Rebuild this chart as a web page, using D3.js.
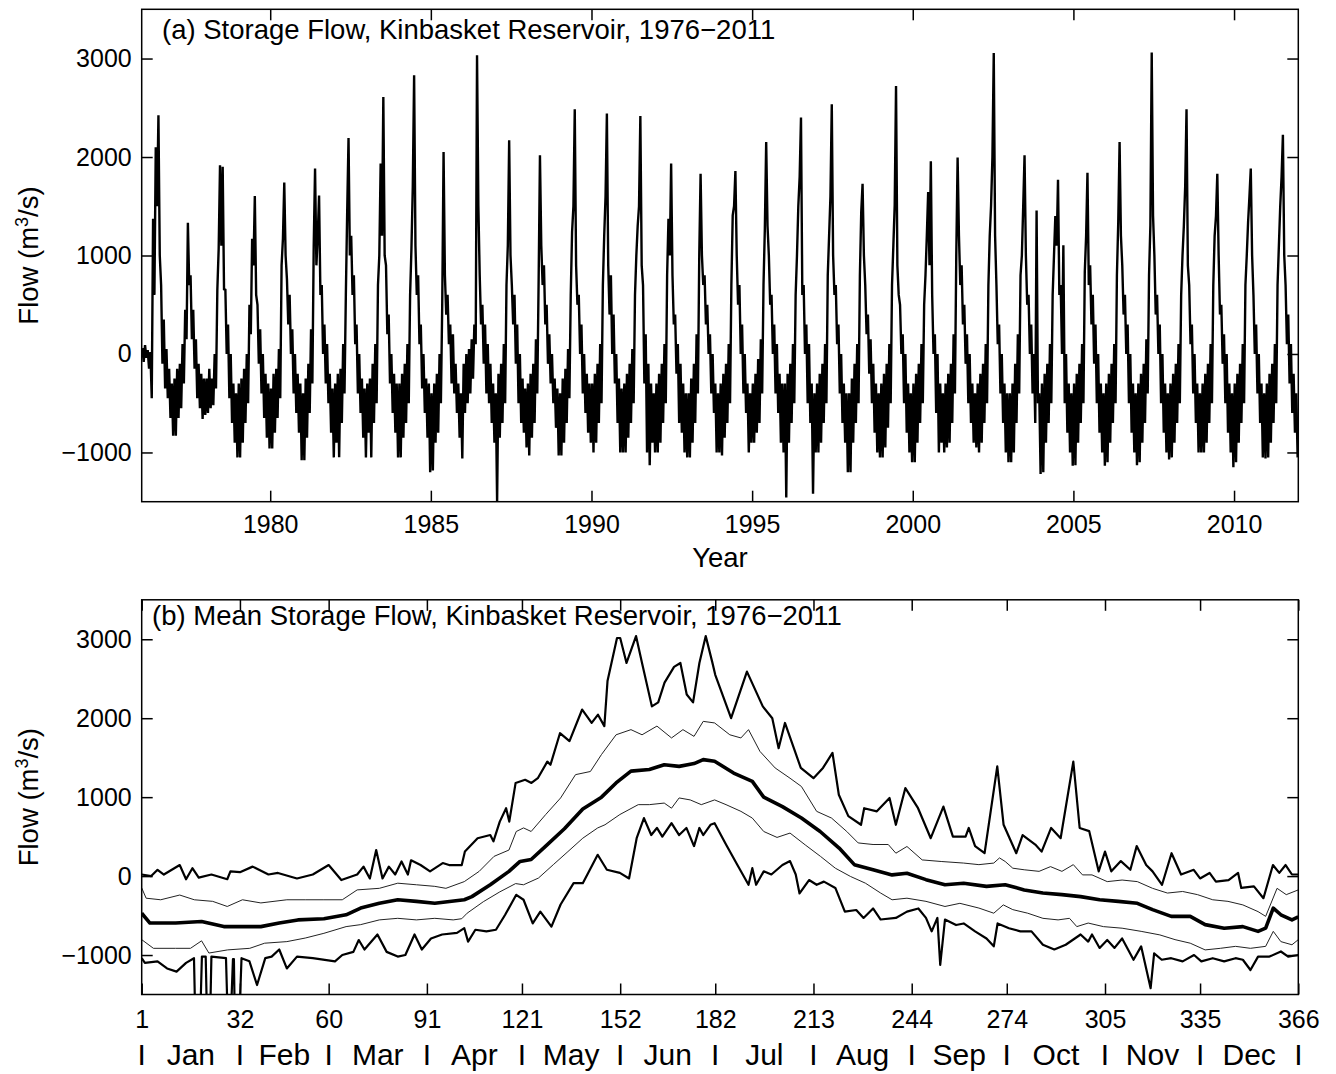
<!DOCTYPE html>
<html><head><meta charset="utf-8">
<script src="https://cdn.jsdelivr.net/npm/d3@7"></script>
<style>
body{margin:0;background:#fff}
text{font-family:"Liberation Sans",Arial,Helvetica,sans-serif;fill:#000}
</style>
</head><body>
<svg id="chart" width="1336" height="1074"></svg>
<script>
// ---------- tick labels / categories ----------
const yearTicks = [1980,1985,1990,1995,2000,2005,2010];
const flowTicks = [-1000,0,1000,2000,3000];
const dayTicks = [1,32,60,91,121,152,182,213,244,274,305,335,366];
const monthNames = ["Jan","Feb","Mar","Apr","May","Jun","Jul","Aug","Sep","Oct","Nov","Dec"];
const titleA = "(a) Storage Flow, Kinbasket Reservoir, 1976\u22122011";
const titleB = "(b) Mean Storage Flow, Kinbasket Reservoir, 1976\u22122011";

// ---------- panel (a): storage flow, 24 half-month readings per year (m3/s) ----------
const years = d3.range(1976, 2012);
const f1976=[60,-80,90,-40,40,-150,20,-450,1374,600,2100,1500,2424,1000,700,-100,350,-350,50,-450,-150,-650,-300,-830];
const f1977=[-250,-830,-150,-650,-100,-550,100,-300,450,150,1333,700,800,150,450,-150,150,-450,-100,-550,-200,-660,-250,-620];
const f1978=[-250,-600,-150,-550,-250,-520,0,-350,650,1069,1916,1100,1900,650,660,0,300,-450,0,-700,-300,-900,-400,-1050];
const f1979=[-300,-1050,-250,-900,-150,-700,0,-500,500,200,1170,900,1604,600,500,-100,250,-400,0,-650,-200,-850,-300,-960];
const f1980=[-350,-960,-200,-800,-150,-650,50,-450,900,1170,1740,1000,760,300,600,0,250,-400,0,-600,-200,-800,-300,-1080];
const f1981=[-400,-1080,-250,-850,-100,-600,250,-300,1100,1882,900,1200,1610,600,700,0,300,-300,100,-500,-200,-800,-350,-1050];
const f1982=[-300,-900,-200,-1049,-150,-700,100,-400,600,1442,2194,1000,1200,600,800,100,300,-400,0,-600,-250,-850,-350,-1050];
const f1983=[-300,-800,-250,-1050,-100,-700,100,-500,700,1000,1933,1200,2610,1000,900,200,400,-300,0,-600,-200,-800,-300,-1050];
const f1984=[-300,-1050,-200,-850,-100,-700,100,-500,600,1069,1700,2831,1100,600,800,100,300,-350,0,-600,-250,-850,-300,-1200];
const f1985=[-400,-1184,-300,-900,-200,-800,0,-500,500,2051,800,400,600,100,300,-300,200,-400,-100,-600,-300,-850,-400,-1060];
const f1986=[-100,-600,0,-500,50,-400,150,-250,300,100,3034,1500,800,300,500,-100,300,-400,100,-500,-100,-700,-300,-900];
const f1987=[-400,-1506,-200,-850,-100,-700,100,-500,700,1103,2170,1000,700,300,600,-100,300,-500,0,-700,-250,-800,-350,-950];
const f1988=[-300,-1030,-200,-850,-100,-700,150,-400,730,2017,1100,700,900,300,500,-100,200,-300,0,-500,-250,-750,-350,-1030];
const f1989=[-400,-1030,-250,-900,-150,-700,50,-450,600,1238,1500,2485,900,500,600,0,300,-400,0,-600,-200,-800,-300,-900];
const f1990=[-300,-1000,-200,-900,-100,-700,100,-500,700,1200,1600,2441,900,400,800,0,400,-300,0,-700,-250,-1000,-350,-1000];
const f1991=[-300,-1000,-200,-850,-100,-700,50,-500,600,1000,1300,1500,2417,900,700,-300,200,-1000,-100,-1130,-300,-900,-400,-1000];
const f1992=[-300,-1000,-200,-900,-100,-700,100,-500,800,1374,1000,1933,800,300,400,-200,100,-700,-100,-800,-300,-1000,-400,-1050];
const f1993=[-400,-1050,-250,-900,-100,-700,200,-400,1000,1831,1000,700,800,300,500,0,200,-400,0,-600,-300,-1000,-400,-1000];
const f1994=[-300,-1030,-200,-850,-100,-700,100,-500,700,1407,1500,1858,1000,500,700,0,300,-400,0,-600,-300,-1000,-400,-900];
const f1995=[-300,-900,-200,-800,-50,-700,150,-400,700,1272,2153,1300,1000,500,600,0,300,-400,100,-600,-200,-900,-300,-1000];
const f1996=[-300,-1458,-200,-900,-100,-700,100,-500,600,1000,1500,1800,2400,600,700,0,300,-500,100,-700,-300,-1420,-400,-1000];
const f1997=[-300,-1000,-200,-900,-100,-700,100,-500,800,1200,1600,2536,1000,600,700,100,300,-400,0,-700,-300,-900,-400,-1200];
const f1998=[-400,-1200,-250,-900,-100,-700,100,-500,800,1442,1729,1000,700,200,400,-200,150,-500,-100,-800,-300,-1000,-400,-1050];
const f1999=[-300,-1050,-200,-950,-100,-750,100,-500,700,1100,1509,2722,900,600,500,0,200,-500,0,-800,-300,-1000,-400,-1100];
const f2000=[-300,-1100,-200,-900,-100,-700,100,-500,500,800,1200,1645,900,1956,600,0,200,-600,0,-1000,-300,-900,-400,-1000];
const f2001=[-300,-950,-200,-900,-100,-700,200,-400,1000,1994,1200,700,900,300,500,-100,200,-500,0,-700,-300,-900,-400,-950];
const f2002=[-300,-1000,-200,-900,-100,-700,100,-500,700,1200,1509,2000,3057,1200,700,100,300,-400,0,-700,-300,-1000,-400,-1100];
const f2003=[-400,-1100,-300,-1000,-100,-700,200,-400,800,1000,1500,2017,1000,500,600,0,300,-400,0,-700,1458,-500,-400,-1218];
const f2004=[-300,-1200,-200,-900,-100,-700,100,-500,600,1000,1400,1100,1770,600,700,0,1103,-500,0,-800,-300,-1000,-400,-1134];
const f2005=[-300,-1130,-200,-900,-100,-700,100,-500,832,1200,1841,700,900,300,600,-100,300,-500,0,-800,-300,-1000,-400,-1134];
const f2006=[-300,-1100,-200,-900,-100,-700,100,-500,800,1340,2153,1200,900,400,600,0,300,-500,0,-800,-300,-1000,-400,-1130];
const f2007=[-300,-1100,-200,-900,-100,-700,150,-400,800,1306,3061,1400,1000,400,600,0,300,-500,0,-800,-300,-1000,-400,-1070];
const f2008=[-300,-1050,-200,-900,-100,-700,100,-500,600,1000,1300,1700,2485,900,700,100,300,-400,0,-700,-300,-1000,-400,-1000];
const f2009=[-300,-1000,-200,-900,-100,-700,100,-500,700,1200,1400,1831,1000,400,500,-100,200,-500,0,-800,-300,-1000,-400,-1150];
const f2010=[-300,-1100,-200,-900,-100,-700,100,-500,700,1000,1340,1600,1882,1000,600,0,300,-400,0,-700,-300,-1050,-400,-1060];
const f2011=[-300,-1050,-200,-900,-100,-700,100,-500,700,1100,1500,1800,2227,1000,700,100,400,-300,100,-600,-200,-800,-400,-1050];
const flowByYear=[f1976,f1977,f1978,f1979,f1980,f1981,f1982,f1983,f1984,f1985,f1986,f1987,f1988,f1989,f1990,f1991,f1992,f1993,f1994,f1995,f1996,f1997,f1998,f1999,f2000,f2001,f2002,f2003,f2004,f2005,f2006,f2007,f2008,f2009,f2010,f2011];

// ---------- panel (b): day-of-year statistics (day, m3/s) ----------
const maxDay=[1,4,6,8,13,15,17,19,23,28,29,32,36,41,44,50,55,60,64,69,71,73,75,77,79,81,83,85,86,89,92,96,98,102,103,107,111,112,114,116,117,119,122,124,126,129,130,133,136,140,143,145,147,148,151,152,154,157,159,162,164,166,169,171,173,175,177,179,181,182,187,192,197,200,202,204,207,209,213,216,219,221,224,228,229,233,237,239,242,246,250,254,257,261,262,264,267,271,273,277,279,283,285,288,291,295,297,300,303,305,307,310,313,315,318,320,323,326,329,333,335,338,340,344,347,348,352,355,358,360,362,364,366];
const maxVal=[20,0,80,20,140,-40,100,-20,20,-40,60,50,120,20,40,-30,20,140,-50,20,120,-30,330,-30,120,20,185,20,200,140,60,165,140,140,310,480,520,440,690,860,690,1180,1220,1180,1240,1450,1410,1810,1710,2110,1940,2045,1900,2470,3016,3016,2700,3040,2680,2150,2200,2450,2650,2700,2300,2200,2700,3040,2720,2550,2000,2590,2150,2000,1620,1940,1600,1370,1240,1370,1560,1030,760,650,860,820,990,650,1115,860,480,880,500,500,610,380,290,1390,650,290,520,400,310,610,480,1450,610,570,60,310,60,190,80,380,140,60,-110,290,20,80,-30,40,-70,-50,40,-150,-130,-280,140,40,140,20,20];

const upDay=[1,2.4,7,13,17.6,23.4,28,32.8,38.6,46.8,52.6,58.5,64.3,69,76,81.8,87.7,93.5,97,102.8,107.5,112.2,116.9,119.2,121.5,123.9,128.5,133.2,137.9,142.6,146.1,150.7,155.4,158.9,163.6,168.2,171.8,175.3,178.2,181.8,186.6,190.1,192.5,196.1,200.9,205.6,209.2,214,218.7,223.5,227.1,231.8,236.6,239,242.5,247.3,253.3,260.4,265.2,269.9,271.7,273.5,275.9,279.5,284.2,287.8,291.4,295,297.9,300.9,305.7,310.4,315.2,320,324.7,329.5,334.2,339,343.8,348.5,353.3,355.7,359.3,362.2,366];
const upVal=[-150,-280,-300,-240,-300,-320,-385,-300,-340,-300,-300,-300,-300,-175,-155,-90,-110,-130,-155,-70,60,250,330,565,610,565,780,990,1285,1325,1540,1790,1855,1790,1900,1750,1855,1770,1960,1940,1790,1750,1855,1580,1370,1240,1135,820,735,565,420,400,400,290,375,205,185,165,145,165,230,185,100,80,60,120,60,145,15,15,-70,-50,-70,-155,-215,-195,-235,-300,-320,-365,-450,-510,-155,-235,-175];

const meanDay=[1,3.6,11.7,19.9,26.9,38.6,44.4,50.3,58.5,65.5,70.1,76,81.8,87.7,93.5,102.8,105.2,111,116.9,120.4,123.9,128.5,134.4,140.2,146.1,150.7,155.4,161.2,165.9,170.6,175.3,178.2,181.8,187.8,193.7,197.3,203.2,209.2,215.1,221.1,225.9,231.8,237.8,242.5,248.5,254.5,260.4,267.6,273.5,279.5,285.4,291.4,297.3,303.3,309.2,315.2,320,325.9,331.9,336.6,342.6,348.5,353.3,355.7,358.1,360.5,364,366];
const meanVal=[-470,-595,-595,-575,-640,-640,-595,-555,-540,-490,-405,-345,-300,-320,-345,-300,-260,-110,60,186,210,380,600,850,1000,1180,1330,1350,1410,1390,1425,1475,1455,1305,1200,1000,880,735,565,355,145,80,15,35,-45,-110,-90,-130,-110,-175,-215,-235,-260,-300,-320,-345,-425,-510,-510,-615,-660,-640,-700,-660,-405,-490,-555,-515];

const loDay=[1,4.7,11.7,16.4,19.9,22.2,28.1,35.1,39.8,46.8,52.6,58.5,65.5,70.1,76,81.8,87.7,93.5,99.3,102,103.7,108.8,114,119,121.5,126.2,130.9,135.5,140.2,144.9,147.2,151.9,157.7,161.2,165.9,168.2,170.6,174.1,177.6,181.8,185.4,190.1,193.7,197.3,201.5,205.6,210.4,215.2,219.9,224.7,229.4,234.2,237.8,242.5,248.5,254.5,259.2,265.2,269.9,272.9,275.9,280.6,285.4,290.2,293.8,296.1,299.7,304.5,310.4,316.4,322.3,327.1,331.9,336.6,341.4,346.2,350.9,355.7,358.1,360.5,364,366];
const loVal=[-805,-915,-915,-915,-820,-975,-935,-915,-850,-830,-785,-725,-640,-615,-555,-535,-555,-535,-555,-540,-470,-325,-200,-95,-110,-25,145,310,480,610,650,780,905,905,925,860,990,965,905,965,905,820,735,565,490,545,395,250,100,-5,-90,-215,-300,-280,-320,-385,-345,-405,-470,-365,-425,-470,-535,-555,-535,-640,-595,-640,-660,-700,-745,-805,-850,-935,-915,-890,-915,-890,-700,-830,-870,-805];

const minDay=[1,2,6,9,12,15,17.5,17.8,19.6,20,21.2,21.5,22.7,23,27.6,28,29.3,29.8,30.1,30.3,32,32.5,35,37.4,40,42,44.4,46.8,50,55,62,64.3,67.8,69.5,71.3,75.4,78.3,81.8,84.2,87.1,89.4,92.3,95.8,100.5,102.8,104,106.3,109.8,112.8,115.7,119.2,121.5,124.4,126.8,130.3,133.2,137.3,140.2,144.9,147.8,151.9,154.8,157.2,159.5,161.8,163.6,165.3,168.2,170.6,172.9,175.3,177,178.2,180.5,181.8,185.4,189,192.5,193.7,194.9,197.3,199.7,203.2,205.6,207.4,208.6,211.6,214,216.3,219.9,222.9,226.5,228.8,231.8,234.2,239,242.5,246.1,248.5,250.3,252.1,253,254.5,258,260.4,264,267.6,269.9,271.1,274.7,278.3,281.8,285.4,289,292.6,297.3,299.7,300.9,303.3,305.7,308,310.4,314,316.4,319.4,320.5,322.9,325.9,329.5,333.1,335.4,339,342.6,346.2,348.5,350.9,353.3,356.9,360.5,362.8,366];
const minVal=[-1040,-1100,-1080,-1170,-1210,-1100,-1040,-1600,-1600,-1020,-1020,-1600,-1600,-1020,-1040,-1600,-1600,-1050,-1050,-1600,-1600,-1040,-1080,-1380,-1040,-1020,-930,-1170,-1020,-1040,-1080,-1000,-960,-810,-930,-740,-960,-1020,-1000,-740,-930,-790,-740,-720,-660,-830,-680,-700,-680,-490,-237,-300,-600,-450,-640,-360,-90,-90,270,80,40,-30,480,735,520,610,500,670,520,610,380,610,520,650,670,400,140,-110,100,-110,60,20,140,190,20,-220,-50,-110,-70,-150,-450,-430,-530,-410,-550,-530,-450,-410,-530,-700,-530,-1125,-550,-620,-600,-700,-790,-890,-600,-660,-700,-700,-870,-930,-870,-740,-830,-740,-910,-810,-910,-790,-1060,-890,-1420,-980,-1060,-1040,-1080,-1000,-1080,-1040,-1080,-1040,-1060,-1190,-1020,-1020,-955,-1020,-1000];

// ---------- drawing ----------
const svg = d3.select("#chart");
const FS = 25;
const FT = 27.5;
const fmt = v => (v < 0 ? "\u2212" + Math.abs(v) : String(v));

function frameAxes(g, x, y, xt, left, right, top, bottom, xPad){
  const ax = [
    [d3.axisLeft(y).tickValues(flowTicks).tickSize(-11).tickPadding(10).tickFormat(fmt), `translate(${left},0)`],
    [d3.axisRight(y).tickValues(flowTicks).tickSize(-11).tickFormat(""), `translate(${right},0)`],
    [d3.axisTop(x).tickValues(xt).tickSize(-11).tickFormat(""), `translate(0,${top})`],
    [d3.axisBottom(x).tickValues(xt).tickSize(-11).tickPadding(xPad).tickFormat(d=>String(d)), `translate(0,${bottom})`]
  ];
  ax.forEach(([a,tr])=>{
    const s = g.append("g").attr("transform", tr).call(a);
    s.select(".domain").remove();
    s.selectAll(".tick line").attr("stroke","#000").attr("stroke-width",1.5);
    s.selectAll("text").attr("font-size",FS).attr("font-family","Liberation Sans, Arial, sans-serif").attr("fill","#000");
  });
  g.append("rect").attr("x",left).attr("y",top).attr("width",right-left).attr("height",bottom-top)
    .attr("fill","none").attr("stroke","#000").attr("stroke-width",1.5);
}

function yLabel(g, cx, cy){
  const t = g.append("text").attr("transform",`translate(${cx},${cy}) rotate(-90)`)
    .attr("text-anchor","middle").attr("font-size",FT);
  t.append("tspan").text("Flow (m");
  t.append("tspan").attr("dy",-10).attr("font-size",18).text("3");
  t.append("tspan").attr("dy",10).text("/s)");
}

// Panel (a)
const L = 141.7, R = 1298.3;
const A = {top: 9.3, bottom: 501.7};
const xA = d3.scaleLinear().domain([1976, 2012]).range([L, R]);
const yA = d3.scaleLinear().domain([-1500, 3500]).range([A.bottom, A.top]);
const seriesA = [];
years.forEach((yr,k)=> flowByYear[k].forEach((v,i)=> seriesA.push({t: yr + (i + 0.5)/24, v})));

const defs = svg.append("defs");
defs.append("clipPath").attr("id","clipA").append("rect").attr("x",L).attr("y",A.top).attr("width",R-L).attr("height",A.bottom-A.top);
const gA = svg.append("g");
gA.append("path").datum(seriesA).attr("clip-path","url(#clipA)")
  .attr("fill","none").attr("stroke","#000").attr("stroke-width",2.4).attr("stroke-linejoin","miter").attr("stroke-miterlimit",1.5)
  .attr("d", d3.line().x(d=>xA(d.t)).y(d=>yA(d.v)));
frameAxes(gA, xA, yA, yearTicks, L, R, A.top, A.bottom, 14);
gA.append("text").attr("x",162).attr("y",39).attr("font-size",FT).text(titleA);
gA.append("text").attr("x",(L+R)/2).attr("y",567).attr("text-anchor","middle").attr("font-size",FT).text("Year");
yLabel(gA, 38, yA(1000));

// Panel (b)
const B = {top: 599.8, bottom: 994.5};
const xB = d3.scaleLinear().domain([1, 366]).range([L, R]);
const yB = d3.scaleLinear().domain([-1500, 3500]).range([B.bottom, B.top]);
defs.append("clipPath").attr("id","clipB").append("rect").attr("x",L).attr("y",B.top).attr("width",R-L).attr("height",B.bottom-B.top);
const gB = svg.append("g");
const lineB = d3.line().x(d=>xB(d[0])).y(d=>yB(d[1]));
const statLines = [
  [maxDay, maxVal, 2.2, "#000"],
  [upDay, upVal, 1, "#222"],
  [meanDay, meanVal, 3.6, "#000"],
  [loDay, loVal, 1, "#222"],
  [minDay, minVal, 2.2, "#000"]
];
statLines.forEach(([ds, vs, w, c])=>{
  gB.append("path").datum(ds.map((d,i)=>[d, vs[i]])).attr("clip-path","url(#clipB)")
    .attr("fill","none").attr("stroke",c).attr("stroke-width",w).attr("stroke-linejoin","round")
    .attr("d", lineB);
});
frameAxes(gB, xB, yB, dayTicks, L, R, B.top, B.bottom, 16);
gB.append("text").attr("x",152).attr("y",625).attr("font-size",FT).text(titleB);
yLabel(gB, 38, yB(1000));

// month row
const monthRow = gB.append("g");
dayTicks.forEach(d=>{
  monthRow.append("text").attr("x",xB(d)).attr("y",1065).attr("text-anchor","middle").attr("font-size",30).text("I");
});
monthNames.forEach((m,i)=>{
  monthRow.append("text").attr("x",(xB(dayTicks[i])+xB(dayTicks[i+1]))/2).attr("y",1065)
    .attr("text-anchor","middle").attr("font-size",30).text(m);
});
</script>
</body></html>
